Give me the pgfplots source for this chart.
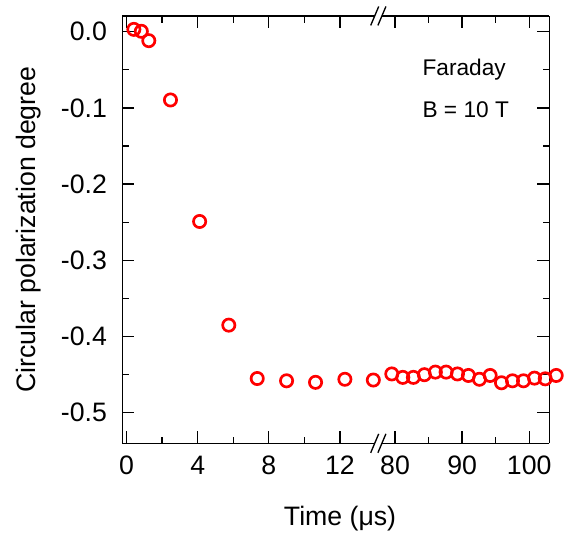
\documentclass[border=0pt]{standalone}
\usepackage{fontspec}
\setmainfont{Liberation Sans}
\usepackage{pgfplots}
\pgfplotsset{compat=1.18}
\begin{document}
\begin{tikzpicture}
\useasboundingbox (-91.725pt,-68pt) rectangle (335.775pt,332.475pt);
\pgfplotsset{
  common/.style={
    scale only axis, height=320.5pt,
    ymin=-0.54, ymax=0.0206,
    ytick={-0.5,-0.4,-0.3,-0.2,-0.1,0},
    minor y tick num=1,
    tick align=inside,
    major tick length=9pt, minor tick length=5pt,
    major tick style={black, line width=1pt},
    minor tick style={black, line width=1pt},
    axis line style={black, line width=1pt},
    clip=false,
    /pgf/number format/assume math mode=true,
    tick label style={font=\fontsize{20}{24}\selectfont},
    y tick label style={xshift=-8pt, /pgf/number format/.cd, fixed, fixed zerofill, precision=1, /tikz/.cd},
    x tick label style={yshift=-6pt},
    axis x line*=box,
  },
  mk/.style={only marks, mark=o, mark size=4.6pt, color=red, line width=2pt, mark options={solid}}
}
\begin{axis}[common, width=192pt, xmin=-0.24, xmax=14.16,
  xtick={0,4,8,12}, minor x tick num=1, axis y line*=left,
  ylabel={Circular polarization degree},
  every axis y label/.style={at={(axis description cs:0,0.5)}, xshift=-70pt, rotate=90, anchor=center, font=\fontsize{20}{24}\selectfont}]
\addplot[mk] coordinates {
(0.41,0.003) (0.83,0.0005) (1.25,-0.0118) (2.47,-0.0896)
(4.11,-0.249) (5.75,-0.385) (7.35,-0.455) (9.0,-0.458)
(10.63,-0.460) (12.28,-0.456) (13.88,-0.457)
};
\end{axis}
\begin{axis}[common, at={(192pt,0pt)}, anchor=south west, width=128.25pt, xmin=77.5, xmax=103,
  xtick={80,90,100}, minor x tick num=1, axis y line*=right, yticklabels={}]
\addplot[mk] coordinates {
(79.51,-0.449) (81.15,-0.4535) (82.73,-0.4535) (84.37,-0.450)
(86.01,-0.4466) (87.61,-0.4466) (89.30,-0.449) (90.94,-0.451)
(92.58,-0.456) (94.18,-0.451) (95.87,-0.4606) (97.51,-0.458)
(99.15,-0.458) (100.79,-0.4545) (102.39,-0.4554) (104.03,-0.451)
};
\end{axis}
% axis break marks
\foreach \yy in {0pt,320.5pt}{
  \begin{scope}[shift={(192pt,\yy)}]
    \fill[white] (-3.33pt,-1.5pt) -- (2.07pt,-1.5pt) -- (3.33pt,1.5pt) -- (-2.07pt,1.5pt) -- cycle;
    \draw[black, line width=1pt] (-5.7pt,-7.1pt) -- (0.3pt,7.1pt);
    \draw[black, line width=1pt] (-0.3pt,-7.1pt) -- (5.7pt,7.1pt);
  \end{scope}
}
\node[anchor=base, inner sep=0pt, font=\fontsize{20}{24}\selectfont] at (163.3pt,-62pt) {Time (μs)};
\node[anchor=base west, inner sep=0pt, font=\fontsize{17}{20}\selectfont] at (225pt,275.5pt) {Faraday};
\node[anchor=base west, inner sep=0pt, font=\fontsize{17}{20}\selectfont] at (225pt,244pt) {B = 10 T};
\end{tikzpicture}
\end{document}
